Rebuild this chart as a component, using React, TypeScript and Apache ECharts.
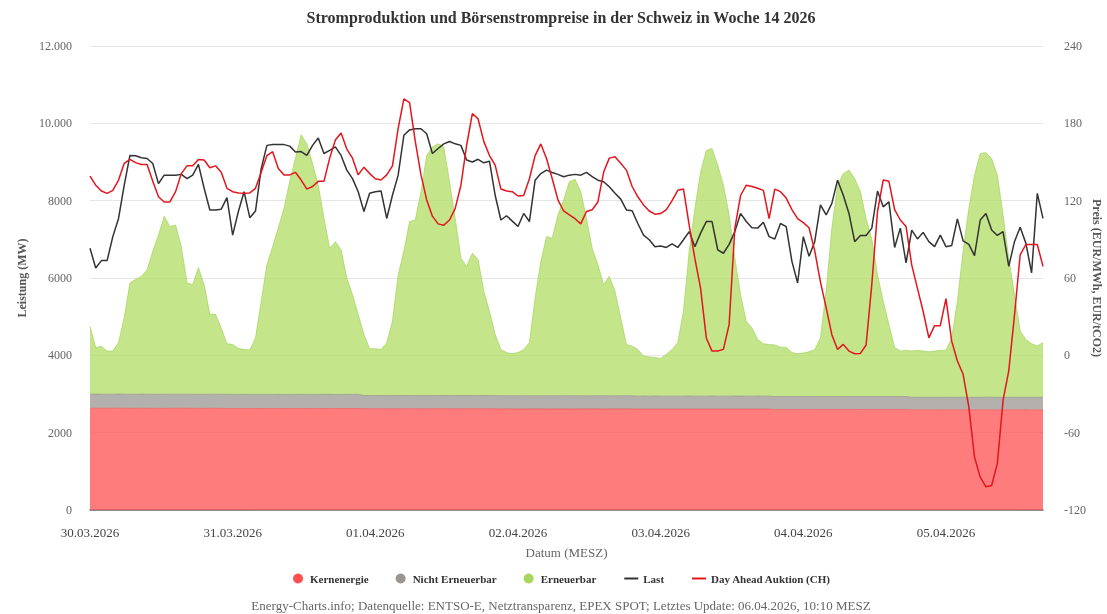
import React, { useEffect, useRef } from "react";
import * as echarts from "echarts";

const dayLabels = ["30.03.2026", "31.03.2026", "01.04.2026", "02.04.2026", "03.04.2026", "04.04.2026", "05.04.2026"];
const hourLabels = dayLabels.flatMap((d) =>
  Array.from({ length: 24 }, (_, h) => `${d} ${String(h).padStart(2, "0")}:00`)
);

const kernenergie = [
  2632, 2631, 2630, 2630, 2631, 2632, 2630, 2629, 2630, 2631, 2630, 2629, 2628, 2629, 2630, 2630, 2631, 2630, 2629, 2628, 2629, 2630, 2630, 2629,
  2626, 2625, 2625, 2626, 2625, 2624, 2625, 2625, 2626, 2625, 2624, 2625, 2625, 2626, 2625, 2624, 2625, 2625, 2626, 2625, 2624, 2625, 2625, 2624,
  2621, 2620, 2620, 2621, 2620, 2619, 2620, 2620, 2621, 2620, 2619, 2620, 2620, 2621, 2620, 2619, 2620, 2620, 2621, 2620, 2619, 2620, 2620, 2619,
  2616, 2615, 2615, 2616, 2615, 2614, 2615, 2615, 2616, 2615, 2614, 2615, 2615, 2616, 2615, 2614, 2615, 2615, 2616, 2615, 2614, 2615, 2615, 2614,
  2611, 2610, 2610, 2611, 2610, 2609, 2610, 2610, 2611, 2610, 2609, 2610, 2610, 2611, 2610, 2609, 2610, 2610, 2611, 2610, 2609, 2610, 2610, 2609,
  2601, 2600, 2600, 2601, 2600, 2599, 2600, 2600, 2601, 2600, 2599, 2600, 2600, 2601, 2600, 2599, 2600, 2600, 2601, 2600, 2599, 2600, 2600, 2599,
  2591, 2590, 2590, 2591, 2590, 2589, 2590, 2590, 2591, 2590, 2589, 2590, 2590, 2591, 2590, 2589, 2590, 2590, 2591, 2590, 2589, 2590, 2590, 2589,
];

const nichtErneuerbar = [
  364, 366, 365, 365, 364, 366, 365, 365, 364, 366, 365, 365, 364, 366, 365, 365, 364, 366, 365, 365, 364, 366, 365, 365,
  364, 366, 365, 365, 364, 366, 365, 365, 364, 366, 365, 365, 364, 366, 365, 365, 364, 366, 365, 365, 364, 366, 365, 365,
  339, 341, 340, 340, 339, 341, 340, 340, 339, 341, 340, 340, 339, 341, 340, 340, 339, 341, 340, 340, 339, 341, 340, 340,
  339, 341, 340, 340, 339, 341, 340, 340, 339, 341, 340, 340, 339, 341, 340, 340, 339, 341, 340, 340, 339, 341, 340, 340,
  334, 336, 335, 335, 334, 336, 335, 335, 334, 336, 335, 335, 334, 336, 335, 335, 334, 336, 335, 335, 334, 336, 335, 335,
  334, 336, 335, 335, 334, 336, 335, 335, 334, 336, 335, 335, 334, 336, 335, 335, 334, 336, 335, 335, 334, 336, 335, 335,
  324, 326, 325, 325, 324, 326, 325, 325, 324, 326, 325, 325, 324, 326, 325, 325, 324, 326, 325, 325, 324, 326, 325, 325,
];

const erneuerbar = [
  1755, 1205, 1235, 1115, 1115, 1335, 1975, 2875, 2975, 3045, 3215, 3695, 4115, 4605, 4335, 4375, 3815, 2875, 2835, 3275, 2835, 2065, 2065, 1715,
  1310, 1290, 1190, 1160, 1150, 1460, 2410, 3350, 3820, 4310, 4810, 5510, 6110, 6710, 6480, 5970, 5410, 4550, 3780, 3950, 3740, 3010, 2580, 2070,
  1580, 1210, 1210, 1190, 1370, 1920, 3120, 3730, 4500, 4540, 5270, 6210, 6430, 6510, 6430, 5530, 4580, 3550, 3340, 3680, 3520, 2700, 2180, 1580,
  1195, 1115, 1085, 1115, 1195, 1375, 2525, 3475, 4115, 4075, 4675, 5065, 5535, 5595, 5275, 4585, 3815, 3385, 2875, 3085, 2705, 2015, 1325, 1285,
  1205, 1035, 1015, 995, 975, 1085, 1205, 1385, 2195, 3745, 4855, 5795, 6355, 6405, 5975, 5455, 4685, 3565, 2625, 1935, 1765, 1465, 1355, 1335,
  1335, 1275, 1275, 1135, 1105, 1125, 1155, 1215, 1515, 2725, 4355, 5465, 5765, 5855, 5635, 5295, 4605, 4065, 3145, 2465, 1865, 1265, 1175, 1195,
  1195, 1215, 1195, 1175, 1195, 1215, 1215, 1535, 2485, 3775, 4885, 5745, 6305, 6325, 6175, 5745, 4715, 3595, 2655, 1715, 1495, 1385, 1325, 1415,
];

const last = [
  6770, 6260, 6450, 6450, 7070, 7540, 8400, 9170, 9160, 9110, 9090, 8960, 8440, 8660, 8660, 8660, 8680, 8570, 8660, 8940, 8320, 7760, 7760, 7780,
  8080, 7110, 7720, 8230, 7560, 7730, 8830, 9430, 9450, 9450, 9450, 9410, 9260, 9270, 9170, 9430, 9620, 9220, 9300, 9390, 9170, 8790, 8570, 8230,
  7720, 8190, 8230, 8250, 7540, 8140, 8660, 9690, 9830, 9860, 9860, 9730, 9220, 9350, 9470, 9530, 9470, 9430, 9050, 9000, 9070, 8980, 9020, 8140,
  7500, 7610, 7470, 7330, 7670, 7460, 8530, 8700, 8790, 8730, 8680, 8620, 8660, 8680, 8660, 8730, 8620, 8530, 8490, 8360, 8190, 8040, 7760, 7740,
  7410, 7110, 6990, 6810, 6830, 6790, 6880, 6790, 6990, 7200, 6810, 7160, 7460, 7460, 6730, 6640, 6870, 7200, 7670, 7460, 7300, 7290, 7440, 7070,
  7010, 7410, 7330, 6430, 5870, 7070, 6560, 6940, 7890, 7630, 7930, 8530, 8140, 7670, 6940, 7100, 7100, 7290, 8250, 7840, 7970, 6790, 7290, 6390,
  7240, 7010, 7180, 6940, 6810, 7110, 6810, 6840, 7530, 6960, 6870, 6580, 7500, 7670, 7240, 7100, 7200, 6300, 6940, 7310, 6900, 6130, 8190, 7540,
];

const dayAhead = [
  139, 132, 127.5, 125.7, 128, 136, 149, 152, 149.5, 148, 148, 135, 123, 119, 119, 127, 141, 147, 147, 152, 151.5, 145.5, 147, 142,
  129.6, 127, 126, 125.7, 126, 129.6, 142, 155, 158, 145, 140, 140, 142, 136, 129, 131, 135, 135, 153, 167, 172.5, 160, 153, 140,
  146, 141, 137, 136, 140, 147, 176, 199, 196, 166, 140, 120.6, 108, 102, 101, 105, 114, 132, 163, 187.5, 183.6, 166, 155, 147.6,
  129, 127.5, 127, 123.6, 124, 137, 155, 164, 152.7, 137, 120.6, 112, 109, 106, 102, 111.6, 113, 119, 142, 153, 154, 149, 143.7, 131,
  123, 116.7, 112, 109.5, 110, 113, 120, 128, 129, 101, 75, 52, 13.5, 3.3, 3.3, 4.6, 24, 98.7, 124, 132, 131, 129.6, 128, 106,
  129, 127, 122, 113, 106, 103, 99, 81, 57, 37, 16, 4.6, 8.5, 3.3, 1.2, 1.5, 8, 55, 111.6, 136, 135, 113, 105, 100,
  70, 52, 34, 13.5, 23, 23, 44, 11, -4.4, -14.7, -40, -79, -94.5, -102, -101, -84, -35, -12, 31, 78, 86, 86, 86, 69,
];

const titleText = "Stromproduktion und Börsenstrompreise in der Schweiz in Woche 14 2026";
const rightAxisName = "Preis (EUR/MWh, EUR/tCO2)";
const footerText =
  "Energy-Charts.info; Datenquelle: ENTSO-E, Netztransparenz, EPEX SPOT; Letztes Update: 06.04.2026, 10:10 MESZ";

const serif = "'Liberation Serif', 'DejaVu Serif', serif";

function fmtThousands(v: number): string {
  if (Math.abs(v) >= 10000) return String(v).replace(/\B(?=(\d{3})+(?!\d))/g, ".");
  return String(v);
}

export default function App() {
  const ref = useRef<HTMLDivElement>(null);
  useEffect(() => {
    if (!ref.current) return;
    const chart = echarts.init(ref.current, null, { renderer: "svg" });
    const areaSeries = (name: string, data: number[], fill: string, solid: string, line: string) => ({
      name,
      type: "line",
      stack: "power",
      data,
      symbol: "none",
      yAxisIndex: 0,
      itemStyle: { color: solid },
      lineStyle: { width: 0.8, color: line },
      areaStyle: { color: fill, opacity: 1 },
      z: 1,
    });
    chart.setOption({
      animation: false,
      textStyle: { fontFamily: serif },
      grid: { left: 90, right: 64, top: 46, bottom: 104, containLabel: false, outerBoundsMode: "none" },
      legend: {
        left: 288,
        top: 568,
        itemWidth: 14,
        itemHeight: 10,
        itemGap: 27,
        textStyle: { fontFamily: serif, fontSize: 11, fontWeight: "bold", color: "#333" },
        data: [
          { name: "Kernenergie", icon: "circle" },
          { name: "Nicht Erneuerbar", icon: "circle" },
          { name: "Erneuerbar", icon: "circle" },
          { name: "Last", itemStyle: { opacity: 0 } },
          { name: "Day Ahead Auktion (CH)", itemStyle: { opacity: 0 } },
        ],
      },
      xAxis: {
        type: "category",
        data: hourLabels,
        boundaryGap: false,
        axisLine: { lineStyle: { color: "#707070", width: 1.5 } },
        axisTick: { show: false },
        axisLabel: {
          interval: 24,
          margin: 16,
          color: "#444",
          fontSize: 13,
          fontFamily: serif,
          formatter: (v: string) => v.slice(0, 10),
        },
        name: "Datum (MESZ)",
        nameLocation: "middle",
        nameGap: 36,
        nameTextStyle: { fontFamily: serif, fontSize: 13, color: "#666" },
      },
      yAxis: [
        {
          type: "value",
          min: 0,
          max: 12000,
          interval: 2000,
          axisLine: { show: false },
          axisTick: { show: false },
          splitLine: { lineStyle: { color: "#e6e6e6", width: 1 } },
          axisLabel: { margin: 18, color: "#666", fontSize: 12, fontFamily: serif, formatter: (v: number) => fmtThousands(v) },
          name: "Leistung (MW)",
          nameLocation: "middle",
          nameRotate: 90,
          nameGap: 62,
          nameTextStyle: { fontFamily: serif, fontSize: 12, fontWeight: "bold", color: "#555" },
        },
        {
          type: "value",
          position: "right",
          min: -120,
          max: 240,
          interval: 60,
          axisLine: { show: false },
          axisTick: { show: false },
          splitLine: { show: false },
          axisLabel: { margin: 21, color: "#666", fontSize: 12, fontFamily: serif },
        },
      ],
      series: [
        areaSeries("Kernenergie", kernenergie, "rgba(255,80,80,0.75)", "#ff4f4f", "rgba(240,90,90,0.9)"),
        areaSeries("Nicht Erneuerbar", nichtErneuerbar, "rgba(155,150,146,0.75)", "#9a9592", "rgba(150,146,142,0.9)"),
        areaSeries("Erneuerbar", erneuerbar, "rgba(176,220,99,0.75)", "#a8d75c", "rgba(165,212,95,0.9)"),
        {
          name: "Last",
          type: "line",
          data: last,
          yAxisIndex: 0,
          symbol: "none",
          itemStyle: { color: "#333333" },
          lineStyle: { color: "#333333", width: 1.5 },
          z: 3,
        },
        {
          name: "Day Ahead Auktion (CH)",
          type: "line",
          data: dayAhead,
          yAxisIndex: 1,
          symbol: "none",
          itemStyle: { color: "#e3161e" },
          lineStyle: { color: "#e3161e", width: 1.5 },
          z: 4,
        },
      ],
      graphic: [
        {
          type: "text",
          x: 561,
          y: 17,
          style: {
            text: titleText,
            align: "center",
            verticalAlign: "middle",
            font: `bold 16px ${serif}`,
            fill: "#333",
          },
        },
        {
          type: "text",
          x: 1097,
          y: 278,
          rotation: -Math.PI / 2,
          style: {
            text: rightAxisName,
            align: "center",
            verticalAlign: "middle",
            font: `bold 12px ${serif}`,
            fill: "#555",
          },
        },
        {
          type: "text",
          x: 561,
          y: 605,
          style: {
            text: footerText,
            align: "center",
            verticalAlign: "middle",
            font: `13px ${serif}`,
            fill: "#666",
          },
        },
      ],
    });
    return () => chart.dispose();
  }, []);
  return <div ref={ref} style={{ position: "fixed", left: 0, top: 0, width: 1107, height: 614 }} />;
}
